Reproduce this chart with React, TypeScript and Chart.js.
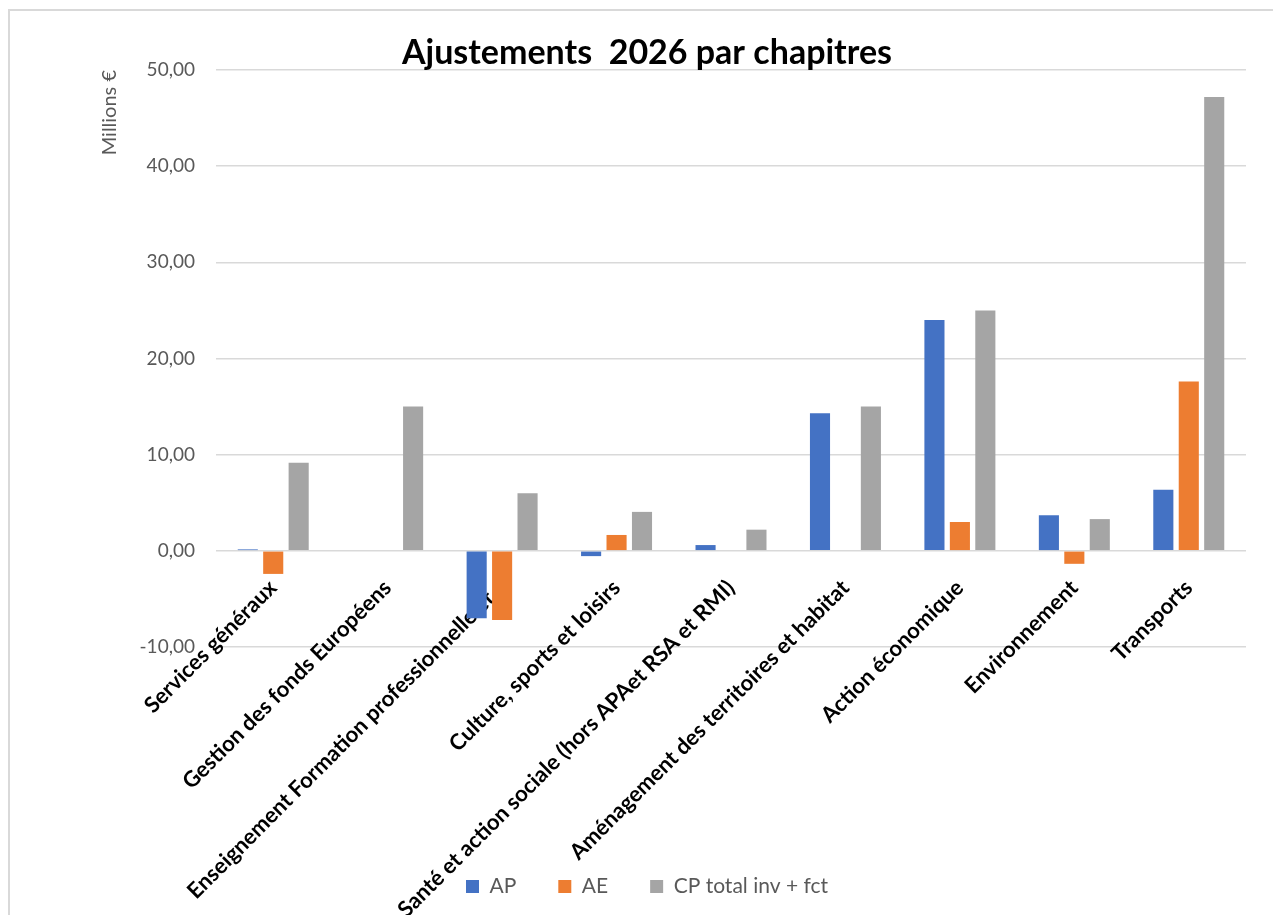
import React, { useEffect, useRef } from 'react';
import { Chart, registerables } from 'chart.js';

Chart.register(...registerables);

const chartTitle = 'Ajustements  2026 par chapitres';
const yAxisTitle = 'Millions €';

const categories = [
  'Services généraux',
  'Gestion des fonds Européens',
  'Enseignement Formation professionnelle et...',
  'Culture, sports et loisirs',
  'Santé et action sociale (hors APAet RSA et RMI)',
  'Aménagement des territoires et habitat',
  'Action économique',
  'Environnement',
  'Transports',
];

const seriesNames = ['AP', 'AE', 'CP total inv + fct'];

const apValues = [0.15, 0, -7.0, -0.55, 0.6, 14.3, 24.0, 3.7, 6.35];
const aeValues = [-2.4, 0, -7.2, 1.65, 0, 0, 3.0, -1.35, 17.6];
const cpValues = [9.15, 15.0, 6.0, 4.05, 2.2, 15.0, 25.0, 3.3, 47.2];

const yTickValues = [-10, 0, 10, 20, 30, 40, 50];

const seriesColors = ['#4472C4', '#ED7D31', '#A5A5A5'];

export default function App() {
  const canvasRef = useRef<HTMLCanvasElement | null>(null);

  useEffect(() => {
    if (!canvasRef.current) return;
    const allValues = [apValues, aeValues, cpValues];
    const chart = new Chart(canvasRef.current, {
      type: 'bar',
      data: {
        labels: categories,
        datasets: seriesNames.map((name, i) => ({
          label: name,
          data: allValues[i],
          backgroundColor: seriesColors[i],
          borderWidth: 0,
          categoryPercentage: 0.667,
          barPercentage: 0.79,
        })),
      },
      options: {
        animation: false,
        responsive: true,
        maintainAspectRatio: false,
        layout: { padding: { left: 48, right: 27, top: 36, bottom: 8 } },
        scales: {
          x: {
            position: { y: 0 } as any,
            grid: { display: false, drawTicks: false },
            border: { display: false },
            ticks: {
              autoSkip: false,
              minRotation: 45,
              maxRotation: 45,
              color: '#000000',
              padding: 24,
              font: { family: 'Lato', size: 22, weight: 'bold' },
            },
          },
          y: {
            min: -10,
            max: 50,
            afterBuildTicks: (scale: any) => {
              scale.ticks = yTickValues.map((v) => ({ value: v }));
            },
            afterFit: (scale: any) => {
              scale.width = 168;
            },
            grid: { color: '#d9d9d9', lineWidth: 1.5, drawTicks: false },
            border: { display: false },
            ticks: {
              color: '#595959',
              padding: 21,
              font: { family: 'Lato', size: 19 },
              callback: (v: any) => Number(v).toFixed(2).replace('.', ','),
            },
            title: {
              display: true,
              text: yAxisTitle,
              align: 'end',
              color: '#595959',
              font: { family: 'Lato', size: 20 },
              padding: { top: 50, bottom: 0 },
            },
          },
        },
        plugins: {
          title: {
            display: true,
            text: chartTitle,
            color: '#000000',
            font: { family: 'Lato', size: 34, weight: 'bold', lineHeight: 1 },
            padding: { top: 0, bottom: 0 },
          },
          legend: {
            position: 'bottom',
            title: {
              display: true,
              text: '',
              font: { size: 10, lineHeight: 1 },
              padding: { top: 177, bottom: 0 },
            },
            labels: {
              boxWidth: 13,
              boxHeight: 13,
              padding: 42,
              color: '#595959',
              font: { family: 'Lato', size: 21 },
            },
          },
          tooltip: { enabled: false },
        },
      },
    });
    return () => chart.destroy();
  }, []);

  return (
    <div
      style={{
        position: 'fixed',
        left: 0,
        top: 0,
        width: 1273,
        height: 915,
        overflow: 'hidden',
        background: '#ffffff',
      }}
    >
      <div
        style={{
          position: 'absolute',
          left: 8,
          top: 9,
          width: 1400,
          height: 1000,
          border: '2px solid #d9d9d9',
          boxSizing: 'border-box',
        }}
      />
      <div style={{ position: 'absolute', left: 0, top: 0, width: 1273, height: 915 }}>
        <canvas ref={canvasRef} />
      </div>
    </div>
  );
}
